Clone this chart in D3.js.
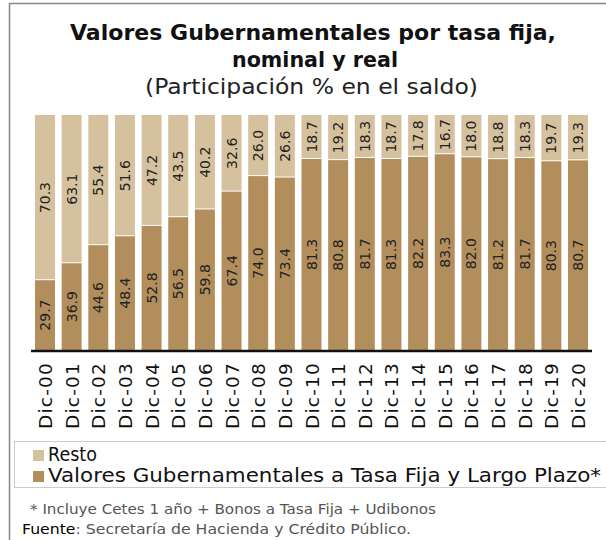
<!DOCTYPE html>
<html>
<head>
<meta charset="utf-8">
<script src="https://cdn.jsdelivr.net/npm/d3@7"></script>
<style>
  body { margin: 0; background: #fff; }
  svg { display: block; font-family: "DejaVu Sans", sans-serif; }
</style>
</head>
<body>
<script>
var width = 606,
    height = 540;

// categories and series
var years = ["Dic-00", "Dic-01", "Dic-02", "Dic-03", "Dic-04", "Dic-05", "Dic-06", "Dic-07",
  "Dic-08", "Dic-09", "Dic-10", "Dic-11", "Dic-12", "Dic-13", "Dic-14", "Dic-15",
  "Dic-16", "Dic-17", "Dic-18", "Dic-19", "Dic-20"];
var fija = [29.7, 36.9, 44.6, 48.4, 52.8, 56.5, 59.8, 67.4, 74.0, 73.4, 81.3,
  80.8, 81.7, 81.3, 82.2, 83.3, 82.0, 81.2, 81.7, 80.3, 80.7];
var resto = [70.3, 63.1, 55.4, 51.6, 47.2, 43.5, 40.2, 32.6, 26.0, 26.6, 18.7,
  19.2, 18.3, 18.7, 17.8, 16.7, 18.0, 18.8, 18.3, 19.7, 19.3];
var seriesNames = ["Resto", "Valores Gubernamentales a Tasa Fija y Largo Plazo*"];
var colors = { fija: "#b38e5d", resto: "#d5c19d" };

var svg = d3.select("body").append("svg")
    .attr("width", width)
    .attr("height", height)

// outer frame (left + top only)
svg.append("path")
    .attr("d", "M9.5," + height + "V3.5H" + width)
    .attr("fill", "none")
    .attr("stroke", "#888")
    .attr("stroke-width", 1.5)

/* the original font is wider, stretch texts to the measured widths */
function stretch(sel, w) {
    sel.attr("textLength", w).attr("lengthAdjust", "spacingAndGlyphs")
}

/* titles */
svg.append("text")
    .attr("x", 70).attr("y", 40)
    .style("font-weight", "bold").style("font-size", "22px")
    .attr("fill", "#111")
    .text("Valores Gubernamentales por tasa fija,")
    .call(stretch, 486)
svg.append("text")
    .attr("x", 232).attr("y", 67)
    .style("font-weight", "bold").style("font-size", "22px")
    .attr("fill", "#111")
    .text("nominal y real")
    .call(stretch, 166)
svg.append("text")
    .attr("x", 145).attr("y", 94)
    .style("font-size", "21.5px")
    .attr("fill", "#222")
    .text("(Participación % en el saldo)")
    .call(stretch, 333)

var x = d3.scaleBand()
    .domain(years)
    .range([31, 592])
    .paddingInner(0.25)
    .paddingOuter(0.15)

var y = d3.scaleLinear()
    .domain([0, 100])
    .range([350, 115])

var data = years.map(function (d, i) {
    return { year: d, fija: fija[i], resto: resto[i] }
})

var g = svg.selectAll("g.bar")
    .data(data)
    .enter().append("g")
    .attr("class", "bar")

// bottom segment: tasa fija
g.append("rect")
    .attr("x", function (d) { return x(d.year) })
    .attr("width", x.bandwidth())
    .attr("y", function (d) { return y(d.fija) })
    .attr("height", function (d) { return y(0) - y(d.fija) })
    .attr("fill", colors.fija)

// top segment: resto
g.append("rect")
    .attr("x", function (d) { return x(d.year) })
    .attr("width", x.bandwidth())
    .attr("y", function (d) { return y(d.fija + d.resto) })
    .attr("height", function (d) { return y(d.fija) - y(d.fija + d.resto) - 1 })
    .attr("fill", colors.resto)

/* value labels, rotated */
function label(sel, lo, hi) {
    sel.append("text")
        .attr("transform", function (d) {
            var cx = x(d.year) + x.bandwidth() / 2,
                cy = (y(lo(d)) + y(hi(d))) / 2;
            return "translate(" + (cx + 5) + "," + cy + ") rotate(-90)"
        })
        .attr("text-anchor", "middle")
        .style("font-size", "14px")
        .attr("fill", "#222")
        .text(function (d) { return d3.format(".1f")(hi(d) - lo(d)) })
}
label(g, function () { return 0 }, function (d) { return d.fija })
label(g, function (d) { return d.fija }, function (d) { return d.fija + d.resto })

// x axis
var xAxis = svg.append("g")
    .attr("transform", "translate(0,351)")
    .call(d3.axisBottom(x).tickSize(0).tickPadding(0))
xAxis.select(".domain")
    .attr("stroke", "#111")
    .attr("stroke-width", 2.5)
    .attr("d", "M31,0H592")
xAxis.selectAll("text")
    .attr("transform", "translate(7,11) rotate(-90)")
    .attr("text-anchor", "end")
    .attr("dy", 0)
    .attr("y", 0)
    .style("font-family", "DejaVu Sans, sans-serif")
    .style("font-size", "18.5px")
    .style("letter-spacing", "1.2px")
    .attr("fill", "#111")

/* legend */
svg.append("rect")
    .attr("x", 14.5).attr("y", 441.5)
    .attr("width", 600).attr("height", 46)
    .attr("fill", "none")
    .attr("stroke", "#ccc")

var legendW = [49, 553];
var legend = svg.selectAll("g.legend")
    .data([{ name: seriesNames[0], c: colors.resto, w: legendW[0] },
           { name: seriesNames[1], c: colors.fija, w: legendW[1] }])
    .enter().append("g")
    .attr("class", "legend")
    .attr("transform", function (d, i) { return "translate(33," + (449 + i * 21) + ")" })
legend.append("rect")
    .attr("width", 11).attr("height", 11)
    .attr("y", 1)
    .attr("fill", function (d) { return d.c })
legend.append("text")
    .attr("x", 15).attr("y", 12)
    .style("font-size", "19.5px")
    .attr("fill", "#111")
    .attr("textLength", function (d) { return d.w })
    .attr("lengthAdjust", "spacingAndGlyphs")
    .text(function (d) { return d.name })

/* notes */
svg.append("text")
    .attr("x", 30).attr("y", 514)
    .style("font-size", "13.5px")
    .attr("fill", "#555")
    .text("* Incluye Cetes 1 año + Bonos a Tasa Fija + Udibonos")
    .call(stretch, 406)
var src = svg.append("text")
    .attr("x", 22).attr("y", 534)
    .style("font-size", "13.5px")
    .attr("fill", "#555")
    .call(stretch, 389)
src.append("tspan").attr("fill", "#000").text("Fuente")
src.append("tspan").text(": Secretaría de Hacienda y Crédito Público.")
</script>
</body>
</html>
